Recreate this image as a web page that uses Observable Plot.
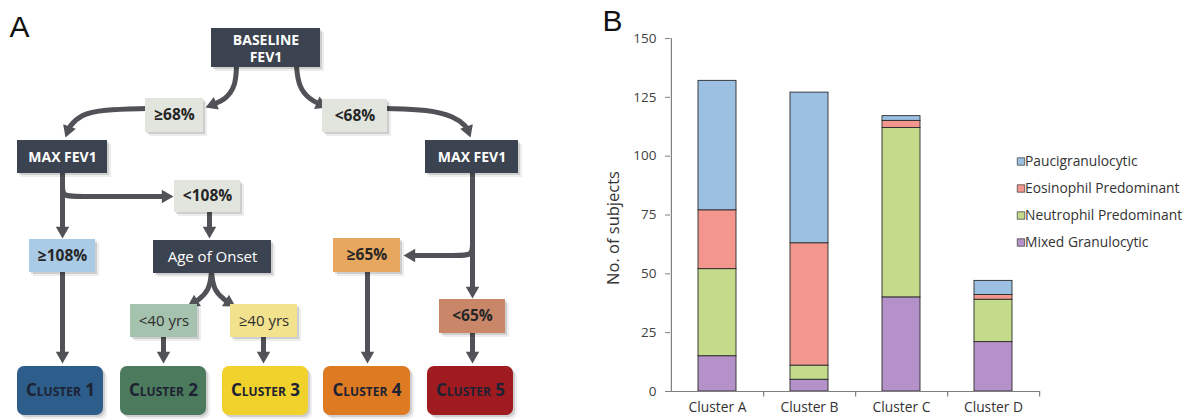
<!DOCTYPE html>
<html><head><meta charset="utf-8">
<script src="https://cdn.jsdelivr.net/npm/d3@7"></script>
<script src="https://cdn.jsdelivr.net/npm/@observablehq/plot@0.6"></script>
<style>
html,body{margin:0;padding:0;background:#fff;}
#fig{position:relative;width:1196px;height:419px;overflow:hidden;font-family:"Open Sans",sans-serif;}
#fig > div{position:absolute;}
svg{overflow:visible;}
</style></head><body>
<div id="fig"><div id="panelA" style="left:0;top:0"></div><div id="panelB" style="left:590px;top:0"></div><div id="legend" style="left:1008px;top:146px"></div></div>
<script>
// ================= Panel B data =================
const clusters = ["Cluster A", "Cluster B", "Cluster C", "Cluster D"];
const seriesNames = ["Paucigranulocytic", "Eosinophil Predominant", "Neutrophil Predominant", "Mixed Granulocytic"];
const paucigranulocytic = [55, 64, 2, 6];
const eosinophilPredominant = [25, 52, 3, 2];
const neutrophilPredominant = [37, 6, 72, 18];
const mixedGranulocytic = [15, 5, 40, 21];
const yTicks = [0, 25, 50, 75, 100, 125, 150];
const yLabel = "No. of subjects";

// ================= Panel A data (decision tree) =================
const nodeIds = ["base","ge68","lt68","maxL","maxR","lt108","ge108","age","lt40","ge40","ge65","lt65","c1","c2","c3","c4","c5"];
const nodeLabels = ["BASELINE\nFEV1","≥68%","<68%","MAX FEV1","MAX FEV1","<108%","≥108%","Age of Onset","<40 yrs","≥40 yrs","≥65%","<65%","Cluster 1","Cluster 2","Cluster 3","Cluster 4","Cluster 5"];
const nodeKinds = ["measure","cut","cut","measure","measure","cut","cut","question","answer","answer","cut","cut","cluster","cluster","cluster","cluster","cluster"];
const edges = [["base","ge68"],["ge68","maxL"],["base","lt68"],["lt68","maxR"],["maxL","ge108"],["maxL","lt108"],
  ["ge108","c1"],["lt108","age"],["age","lt40"],["age","ge40"],["lt40","c2"],["ge40","c3"],
  ["maxR","lt65"],["maxR","ge65"],["ge65","c4"],["lt65","c5"]];

// ---- layout / styles (kept apart from data) ----
const nodeLayout = { // cx, cy, w, h (px)
  base:[265.5,47.5,109,39], ge68:[174,115,58,34], lt68:[354.5,115.5,65,33],
  maxL:[62,156.5,90,33], maxR:[471.5,156.5,93,33], lt108:[207,196,66,32],
  ge108:[62,255.5,66,33], age:[212,256.5,118,33], lt40:[163.5,320.5,67,33],
  ge40:[263.5,320.5,67,33], ge65:[366.5,255,67,34], lt65:[472,316,66,34],
  c1:[60,390.5,86,49], c2:[163,390.5,86,49], c3:[265,390.5,86,49], c4:[366.5,390.5,87,49], c5:[470,390.5,86,49]
};
const nodeFill = {
  base:"#3c4350", maxL:"#3c4350", maxR:"#3c4350", age:"#3c4350",
  ge68:"#e1e5de", lt68:"#e1e5de", lt108:"#e1e5de",
  ge108:"#a9cbe6", lt40:"#a4c2ae", ge40:"#f2e28e", ge65:"#e8a75e", lt65:"#c98669",
  c1:"#2d5d8b", c2:"#4c7a5c", c3:"#f1d12b", c4:"#de7a22", c5:"#a01b1f"
};
const edgeRoutes = { // control points, last one = arrow tip
  "base-ge68":[[236,66],[235,86],[225,99],[205,107]],
  "ge68-maxL":[[146,108],[102,109],[80,114],[69,126],[65,137]],
  "base-lt68":[[296,66],[298,86],[309,99],[327,107]],
  "lt68-maxR":[[386,108],[428,109],[454,116],[466,126],[470,137]],
  "maxL-ge108":[[62,170],[62,238]],
  "maxL-lt108":[[62,172],[62,184],[62,196],[76,196],[173,196]],
  "ge108-c1":[[62,270],[62,363]],
  "lt108-age":[[209,210],[209,238]],
  "age-lt40":[[211,271],[209,290],[197,300],[187,306]],
  "age-ge40":[[211,271],[213,290],[225,300],[235,306]],
  "lt40-c2":[[163,335],[163,363]],
  "ge40-c3":[[263,335],[263,363]],
  "maxR-lt65":[[472,170],[472,298]],
  "maxR-ge65":[[472,228],[472,243],[472,255],[458,255],[403,255]],
  "ge65-c4":[[367,270],[367,363]],
  "lt65-c5":[[472,331],[472,363]]
};

const FONT = "'Open Sans', sans-serif";
const LINE = "#505257";
const HEAD = 7.8;

const nodes = nodeIds.map((id, i) => {
  const [cx, cy, w, h] = nodeLayout[id];
  return {id, label: nodeLabels[i], kind: nodeKinds[i], cx, cy,
    x1: cx - w / 2, x2: cx + w / 2, y1: cy - h / 2, y2: cy + h / 2, fill: nodeFill[id]};
});
const linkRows = [], heads = [];
edges.forEach(([a, b]) => {
  const pts = edgeRoutes[a + "-" + b], n = pts.length;
  const [tx, ty] = pts[n - 1], [px, py] = pts[n - 2];
  const L = Math.hypot(tx - px, ty - py), ux = (tx - px) / L, uy = (ty - py) / L;
  const hx = tx - HEAD * ux, hy = ty - HEAD * uy;
  pts.slice(0, n - 1).forEach(p => linkRows.push({id: a + b, x: p[0], y: p[1]}));
  linkRows.push({id: a + b, x: hx, y: hy});
  heads.push({x: hx, y: hy, rotate: Math.atan2(uy, ux) * 180 / Math.PI + 90});
});
const boxes = nodes.filter(d => d.kind !== "cluster");
const clusterBoxes = nodes.filter(d => d.kind === "cluster");
const ofKind = k => nodes.filter(d => d.kind === k);

const plotA = Plot.plot({
  width: 590, height: 419, margin: 0,
  x: {domain: [0, 590], range: [0, 590], axis: null},
  y: {domain: [0, 419], range: [0, 419], axis: null},
  color: {type: "identity"},
  style: {fontFamily: FONT, background: "transparent"},
  marks: [
    Plot.text(["A"], {frameAnchor: "top-left", dx: 9, dy: 15, lineAnchor: "top", textAnchor: "start", fontSize: 30, fontFamily: "'Liberation Sans', sans-serif", fill: "#111"}),
    Plot.line(linkRows, {x: "x", y: "y", z: "id", curve: "basis", stroke: LINE, strokeWidth: 5}),
    Plot.dot(heads, {x: "x", y: "y", rotate: "rotate", symbol: "triangle", r: 5, fill: LINE, stroke: null}),
    // soft shadows
    Plot.rect(boxes, {x1: "x1", x2: "x2", y1: "y1", y2: "y2", dx: 4, dy: 4, fill: "#000", fillOpacity: 0.07}),
    Plot.rect(boxes, {x1: "x1", x2: "x2", y1: "y1", y2: "y2", dx: 2, dy: 2, fill: "#000", fillOpacity: 0.13}),
    Plot.rect(clusterBoxes, {x1: "x1", x2: "x2", y1: "y1", y2: "y2", dx: 4, dy: 4, rx: 7, fill: "#000", fillOpacity: 0.07}),
    Plot.rect(clusterBoxes, {x1: "x1", x2: "x2", y1: "y1", y2: "y2", dx: 2, dy: 2, rx: 7, fill: "#000", fillOpacity: 0.13}),
    // boxes
    Plot.rect(boxes, {x1: "x1", x2: "x2", y1: "y1", y2: "y2", fill: "fill"}),
    Plot.rect(clusterBoxes, {x1: "x1", x2: "x2", y1: "y1", y2: "y2", rx: 7, fill: "fill"}),
    // labels
    Plot.text(ofKind("measure"), {x: "cx", y: "cy", text: "label", fill: "#fff", fontWeight: 700, fontSize: 14, lineHeight: 1.2}),
    Plot.text(ofKind("cut"), {x: "cx", y: "cy", text: "label", fill: "#262626", fontWeight: 700, fontSize: 15.5}),
    Plot.text(ofKind("question"), {x: "cx", y: "cy", text: "label", fill: "#fff", fontSize: 15}),
    Plot.text(ofKind("answer"), {x: "cx", y: "cy", text: "label", fill: "#2e2e2e", fontSize: 15}),
    Plot.text(ofKind("cluster"), {x: "cx", y: "cy", text: "label", fill: "#1d2233", fontWeight: 700, fontSize: 17, fontVariant: "small-caps"})
  ]
});
document.getElementById("panelA").append(plotA);

// ================= Panel B plot =================
const seriesValues = {
  "Paucigranulocytic": paucigranulocytic,
  "Eosinophil Predominant": eosinophilPredominant,
  "Neutrophil Predominant": neutrophilPredominant,
  "Mixed Granulocytic": mixedGranulocytic
};
const seriesColors = ["#9cc0e2", "#f3968d", "#c3db8b", "#b491c9"];
const stackOrder = seriesNames.slice().reverse();
const barRows = stackOrder.flatMap(s => clusters.map((c, i) => ({cluster: c, type: s, value: seriesValues[s][i]})));

const bW = 606, bML = 80, bMR = 157;
const step = (bW - bML - bMR) / clusters.length;
const AXIS = "#7f7f7f";

const plotB = Plot.plot({
  width: bW, height: 419, marginLeft: bML, marginRight: bMR, marginTop: 38, marginBottom: 28,
  x: {domain: clusters, paddingInner: 0.59, paddingOuter: 0.295},
  y: {domain: [0, 150]},
  color: {domain: seriesNames, range: seriesColors},
  style: {fontFamily: FONT, background: "transparent"},
  marks: [
    Plot.barY(barRows, {x: "cluster", y: "value", fill: "type", stroke: "#2a2a2a", strokeWidth: 0.9, order: stackOrder}),
    Plot.ruleY([0], {stroke: AXIS, strokeWidth: 1.2}),
    Plot.ruleX([clusters[0]], {x: d => d, y1: 0, y2: 150, dx: -step / 2, stroke: AXIS, strokeWidth: 1.2}),
    Plot.ruleX(clusters, {x: d => d, y1: 0, y2: -2.3, dx: step / 2, stroke: AXIS, strokeWidth: 1.2}),
    Plot.axisY({ticks: yTicks, tickSize: 5, tickPadding: 9, tickFormat: d => d, fontSize: 13.5, stroke: AXIS, fill: "#404040", label: null}),
    Plot.axisX({tickSize: 0, tickPadding: 11, fontSize: 13.8, fill: "#333", label: null}),
    Plot.text([yLabel], {frameAnchor: "left", dx: -57, dy: 13, rotate: -90, textAnchor: "middle", fontSize: 16.5, fill: "#333"}),
    Plot.text(["B"], {frameAnchor: "top-left", dx: -68, dy: -29, lineAnchor: "top", textAnchor: "start", fontSize: 30, fontFamily: "'Liberation Sans', sans-serif", fill: "#111"})
  ]
});
document.getElementById("panelB").append(plotB);

// ================= Legend =================
const legend = Plot.plot({
  width: 188, height: 110, margin: 0,
  x: {domain: [0, 1], axis: null},
  y: {type: "point", domain: seriesNames, range: [14, 96.5], padding: 0, axis: null},
  color: {domain: seriesNames, range: seriesColors},
  style: {fontFamily: FONT, background: "transparent"},
  marks: [
    Plot.dot(seriesNames, {y: d => d, frameAnchor: "left", dx: 12.5, symbol: "square", r: 4.2, fill: d => d, stroke: "#4a4a4a", strokeWidth: 0.8}),
    Plot.text(seriesNames, {y: d => d, frameAnchor: "left", dx: 16.5, text: d => d, textAnchor: "start", fontSize: 13.8, fill: "#333"})
  ]
});
document.getElementById("legend").append(legend);
</script>
</body></html>
